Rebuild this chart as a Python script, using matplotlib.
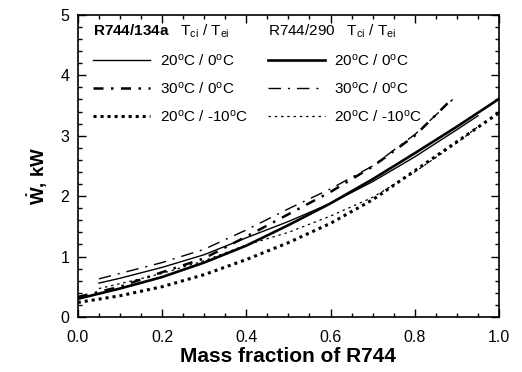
import numpy as np
import matplotlib.pyplot as plt

plt.rcParams['font.family'] = ['Liberation Sans', 'DejaVu Sans']
plt.rcParams['mathtext.fontset'] = 'custom'
plt.rcParams['mathtext.rm'] = 'Liberation Sans'
plt.rcParams['mathtext.it'] = 'Liberation Sans'
plt.rcParams['mathtext.bf'] = 'Liberation Sans:bold'

# compressor power vs. CO2 mass fraction
x_full = [0.0, 0.1, 0.2, 0.3, 0.4, 0.5, 0.6, 0.7, 0.8, 0.9, 1.0]
x_part = [0.05, 0.1, 0.2, 0.3, 0.4, 0.5, 0.6, 0.7, 0.8, 0.9, 0.95]
x_dd = [0.0, 0.1, 0.2, 0.3, 0.4, 0.5, 0.6, 0.7, 0.8, 0.89]
x_dd_part = [0.05, 0.1, 0.2, 0.3, 0.4, 0.5, 0.6, 0.7, 0.8, 0.89]

# R744/134a
w_134a_20_0 = [0.56, 0.64, 0.82, 1.03, 1.31, 1.58, 1.88, 2.24, 2.65, 3.10, 3.33]
w_134a_30_0 = [0.33, 0.50, 0.74, 0.97, 1.33, 1.70, 2.07, 2.49, 3.00, 3.62]
w_134a_20_m10 = [0.24, 0.35, 0.50, 0.70, 0.95, 1.23, 1.55, 1.94, 2.42, 2.90, 3.38]

# R744/290
w_290_20_0 = [0.30, 0.47, 0.66, 0.90, 1.18, 1.52, 1.88, 2.28, 2.71, 3.15, 3.61]
w_290_30_0 = [0.63, 0.72, 0.90, 1.12, 1.44, 1.79, 2.12, 2.50, 3.02, 3.60]
w_290_20_m10 = [0.47, 0.55, 0.72, 0.93, 1.19, 1.40, 1.67, 1.98, 2.40, 2.88, 3.15]

fig = plt.figure(figsize=(5.22, 3.72), dpi=100)
ax = fig.add_axes([0.149, 0.148, 0.807, 0.812])

l1, = ax.plot(x_part, w_134a_20_0, color='black', lw=1.0)
l2, = ax.plot(x_dd, w_134a_30_0, color='black', lw=1.8, linestyle=(0, (4, 3, 1, 3)))
l3, = ax.plot(x_full, w_134a_20_m10, color='black', lw=2.2, linestyle=(0, (1.0, 1.3)))

r1, = ax.plot(x_full, w_290_20_0, color='black', lw=1.9)
r2, = ax.plot(x_dd_part, w_290_30_0, color='black', lw=1.0, linestyle=(0, (9, 5, 1.5, 5)))
r3, = ax.plot(x_part, w_290_20_m10, color='black', lw=0.9, linestyle=(0, (2, 3)))

labels = ['20$^{\\mathrm{o}}$C / 0$^{\\mathrm{o}}$C',
          '30$^{\\mathrm{o}}$C / 0$^{\\mathrm{o}}$C',
          '20$^{\\mathrm{o}}$C / -10$^{\\mathrm{o}}$C']

leg_kw = dict(frameon=False, fontsize=11, handlelength=3.7, handletextpad=0.65,
              labelspacing=0.8, borderaxespad=0.0, title_fontsize=11,
              alignment='left')
leg1 = ax.legend([l1, l2, l3], labels, loc='upper left',
                 bbox_to_anchor=(0.022, 0.995),
                 title='$\\mathbf{R744/134a}$   T$_{ci}$ / T$_{ei}$', **leg_kw)
ax.add_artist(leg1)
ax.legend([r1, r2, r3], labels, loc='upper left',
          bbox_to_anchor=(0.437, 0.995),
          title='R744/290   T$_{ci}$ / T$_{ei}$', **leg_kw)

ax.set_xlim(0, 1.0)
ax.set_ylim(0, 5)
ax.set_xticks(np.arange(0, 1.01, 0.2))
ax.set_xticks(np.arange(0, 1.01, 0.05), minor=True)
ax.set_yticks(np.arange(0, 5.1, 1))
ax.set_yticks(np.arange(0, 5.01, 0.2), minor=True)
ax.xaxis.set_major_formatter(plt.FormatStrFormatter('%.1f'))
ax.tick_params(which='both', direction='in', top=True, right=True, labelsize=11.5, width=1.0)
ax.tick_params(which='major', length=6)
ax.tick_params(which='minor', length=3)
ax.tick_params(axis='x', which='major', pad=9.5)
ax.tick_params(axis='y', which='major', pad=6)
for s in ax.spines.values():
    s.set_linewidth(1.2)

ax.set_xlabel('Mass fraction of R744', fontsize=15, fontweight='bold', labelpad=1)
ax.set_ylabel('$\\mathbf{\\dot{W}}$, kW', fontsize=13.5, fontweight='bold')
ax.yaxis.set_label_coords(-0.065, 0.467)

fig.savefig('out.png', dpi=100)
